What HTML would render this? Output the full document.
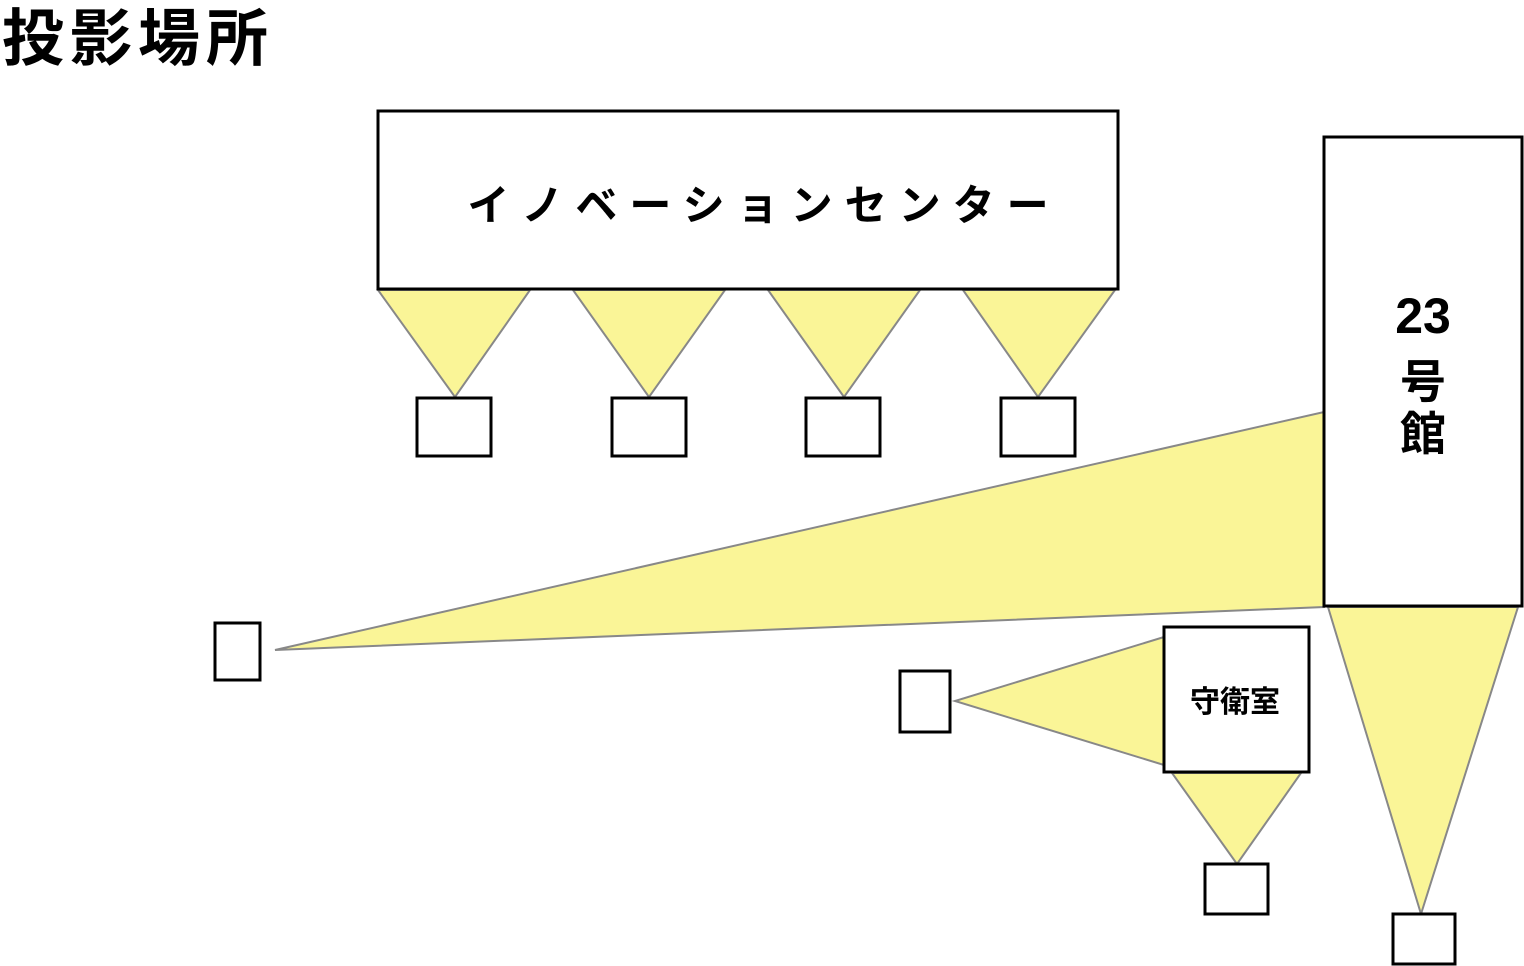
<!DOCTYPE html>
<html><head><meta charset="utf-8"><style>
html,body{margin:0;padding:0;background:#fff;}
svg{display:block;}
text{font-family:"Liberation Sans","Noto Sans CJK JP",sans-serif;fill:#000;}
</style></head><body>
<svg width="1524" height="966" viewBox="0 0 1524 966" xmlns="http://www.w3.org/2000/svg">
<text x="2" y="60" font-size="62" font-weight="bold" letter-spacing="6">投影場所</text>
<g fill="#faf597" stroke="#888" stroke-width="2">
<polygon points="378,290 530,290 455,397"/>
<polygon points="573,290 725,290 649,397"/>
<polygon points="768,290 920,290 844,397"/>
<polygon points="963,290 1115,290 1038,397"/>
<polygon points="1324,412 1324,607 275,650"/>
<polygon points="1328,607 1518,607 1421,914"/>
<polygon points="1164,637 1164,765 955,701"/>
<polygon points="1172,773 1301,773 1237,864"/>
</g>
<g fill="#fff" stroke="#000" stroke-width="3">
<rect x="378" y="111" width="740" height="178"/>
<rect x="417" y="398" width="74" height="58"/>
<rect x="612" y="398" width="74" height="58"/>
<rect x="806" y="398" width="74" height="58"/>
<rect x="1001" y="398" width="74" height="58"/>
<rect x="1324" y="137" width="198" height="469"/>
<rect x="215" y="623" width="45" height="57"/>
<rect x="1164" y="627" width="145" height="145"/>
<rect x="900" y="671" width="50" height="61"/>
<rect x="1205" y="864" width="63" height="50"/>
<rect x="1393" y="914" width="62" height="50"/>
</g>
<text x="764" y="220" font-size="42" font-weight="bold" text-anchor="middle" letter-spacing="12">イノベーションセンター</text>
<text x="1423" y="333" font-size="50" font-weight="bold" text-anchor="middle">23</text>
<text x="1423" y="398" font-size="46" font-weight="bold" text-anchor="middle">号</text>
<text x="1423" y="450" font-size="46" font-weight="bold" text-anchor="middle">館</text>
<text x="1235" y="712" font-size="30" font-weight="bold" text-anchor="middle">守衛室</text>
</svg>
</body></html>
